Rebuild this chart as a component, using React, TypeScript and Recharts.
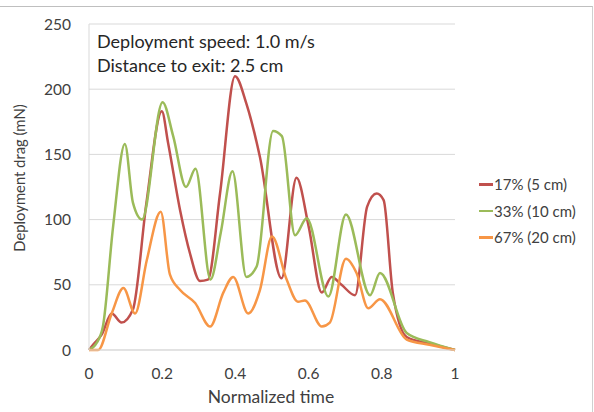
import { LineChart, Line, XAxis, YAxis, CartesianGrid } from 'recharts';

const FONT = 'Lato, "Open Sans", sans-serif';

const xTicks = [0, 0.2, 0.4, 0.6, 0.8, 1];
const yTicks = [0, 50, 100, 150, 200, 250];

const seriesNames = ['17% (5 cm)', '33% (10 cm)', '67% (20 cm)'];
const seriesColors = ['#C0504D', '#9BBB59', '#F79646'];

const time17 = [0, 0.011, 0.035, 0.062, 0.089, 0.12, 0.157, 0.199, 0.216, 0.249, 0.276, 0.303, 0.325, 0.358, 0.399, 0.43, 0.467, 0.526, 0.567, 0.6, 0.636, 0.663, 0.69, 0.727, 0.76, 0.786, 0.805, 0.83, 0.868, 0.93, 1];
const drag17 = [0, 4, 12, 28, 21, 31, 113, 183, 159, 107, 74, 53, 54, 120, 210, 189, 148, 55, 132, 95, 44, 56, 50, 42, 110, 120, 115, 44, 10, 5, 0];

const time33 = [0, 0.02, 0.038, 0.066, 0.098, 0.12, 0.145, 0.201, 0.23, 0.265, 0.291, 0.332, 0.36, 0.392, 0.43, 0.458, 0.503, 0.527, 0.563, 0.595, 0.654, 0.702, 0.768, 0.795, 0.868, 0.93, 1];
const drag33 = [0, 5, 18, 95, 158, 113, 100, 190, 164, 125, 139, 54, 90, 137, 56, 64, 168, 164, 88, 101, 41, 104, 42, 59, 13, 6, 0];

const time67 = [0, 0.025, 0.062, 0.094, 0.126, 0.158, 0.196, 0.221, 0.249, 0.29, 0.331, 0.367, 0.394, 0.435, 0.467, 0.5, 0.54, 0.571, 0.59, 0.636, 0.658, 0.702, 0.731, 0.763, 0.795, 0.868, 0.93, 1];
const drag67 = [0, 0, 28, 47.5, 28, 69, 106, 58, 46, 36, 18, 44, 56, 28, 46, 87, 54, 37, 38, 18, 21, 70, 59, 32, 39, 8, 4, 0];

const toPoints = (t: number[], v: number[]) => t.map((x, i) => ({ t: x, v: v[i] }));

const series = [
  toPoints(time17, drag17),
  toPoints(time33, drag33),
  toPoints(time67, drag67),
];

function LegendBox() {
  return (
    <div style={{ position: 'absolute', left: 479, top: 171, fontFamily: FONT, fontSize: 15, color: '#404040' }}>
      {seriesNames.map((name, i) => (
        <div key={name} style={{ display: 'flex', alignItems: 'center', height: 26.5 }}>
          <span style={{ width: 14, height: 2.5, background: seriesColors[i], marginRight: 1 }} />
          {name}
        </div>
      ))}
    </div>
  );
}

export default function App() {
  const tick = { fill: '#404040', fontSize: 15.5, fontFamily: FONT };
  return (
    <div style={{ position: 'absolute', left: 0, top: 0, width: 594, height: 412, background: '#fff' }}>
      <div style={{ position: 'absolute', left: 0, top: 6, width: 592, height: 406, borderTop: '1.5px solid #bfbfbf', borderRight: '1.5px solid #d0d0d0' }} />
      <LineChart width={594} height={412} margin={{ top: 24, right: 139, bottom: 34, left: 0 }}>
        <CartesianGrid vertical={false} stroke="#d9d9d9" />
        <XAxis
          dataKey="t"
          type="number"
          domain={[0, 1]}
          ticks={xTicks}
          tick={tick}
          tickLine={false}
          tickSize={0}
          tickMargin={18}
          axisLine={{ stroke: '#d9d9d9' }}
          height={28}
          allowDuplicatedCategory={false}
        />
        <YAxis
          type="number"
          domain={[0, 250]}
          ticks={yTicks}
          tick={tick}
          tickLine={false}
          tickSize={0}
          tickMargin={18}
          axisLine={{ stroke: '#d9d9d9' }}
          width={89}
        />
        {series.map((d, i) => (
          <Line
            key={seriesNames[i]}
            data={d}
            dataKey="v"
            name={seriesNames[i]}
            type="monotone"
            stroke={seriesColors[i]}
            strokeWidth={2.5}
            dot={false}
            isAnimationActive={false}
          />
        ))}
      </LineChart>
      <LegendBox />
      <div style={{ position: 'absolute', left: 97, top: 29, fontFamily: FONT, fontSize: 18, lineHeight: '24px', color: '#262626' }}>
        <div>Deployment speed: 1.0 m/s</div>
        <div>Distance to exit: 2.5 cm</div>
      </div>
      <div style={{ position: 'absolute', left: 0, top: 386, width: 542, textAlign: 'center', fontFamily: FONT, fontSize: 17.5, color: '#404040' }}>
        Normalized time
      </div>
      <div style={{ position: 'absolute', left: 19, top: 178, width: 0, height: 0 }}>
        <div style={{ position: 'absolute', transform: 'translate(-50%, -50%) rotate(-90deg)', whiteSpace: 'nowrap', fontFamily: FONT, fontSize: 14.8, color: '#404040' }}>
          Deployment drag (mN)
        </div>
      </div>
    </div>
  );
}
